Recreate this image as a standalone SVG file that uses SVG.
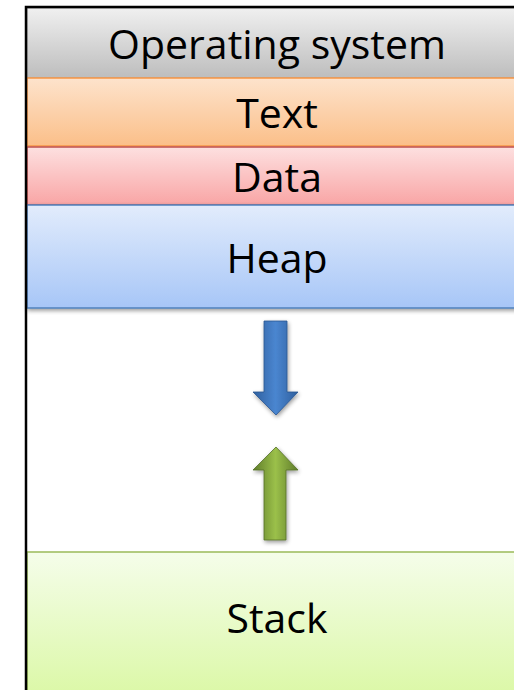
<svg xmlns="http://www.w3.org/2000/svg" width="514" height="690" viewBox="0 0 514 690">
<defs>
<linearGradient id="gOS" x1="0" y1="0" x2="0" y2="1"><stop offset="0" stop-color="#f0f0f0"/><stop offset="1" stop-color="#bdbdbd"/></linearGradient>
<linearGradient id="gText" x1="0" y1="0" x2="0" y2="1"><stop offset="0" stop-color="#fde3cc"/><stop offset="1" stop-color="#fbbf89"/></linearGradient>
<linearGradient id="gData" x1="0" y1="0" x2="0" y2="1"><stop offset="0" stop-color="#fde0e0"/><stop offset="1" stop-color="#f9a5a5"/></linearGradient>
<linearGradient id="gHeap" x1="0" y1="0" x2="0" y2="1"><stop offset="0" stop-color="#e2ecfc"/><stop offset="1" stop-color="#a7c6f7"/></linearGradient>
<linearGradient id="gStack" x1="0" y1="0" x2="0" y2="1"><stop offset="0" stop-color="#f5fdea"/><stop offset="1" stop-color="#dbf8a6"/></linearGradient>
<linearGradient id="gBlue" x1="0" y1="0" x2="1" y2="0"><stop offset="0" stop-color="#2f5f9e"/><stop offset="0.5" stop-color="#4a86d0"/><stop offset="1" stop-color="#2f5f9e"/></linearGradient>
<linearGradient id="gGreen" x1="0" y1="0" x2="1" y2="0"><stop offset="0" stop-color="#5f7c2a"/><stop offset="0.5" stop-color="#9bc04a"/><stop offset="1" stop-color="#5f7c2a"/></linearGradient>
<filter id="sh" x="-30%" y="-30%" width="160%" height="160%"><feGaussianBlur in="SourceAlpha" stdDeviation="2"/><feOffset dx="1" dy="2"/><feComponentTransfer><feFuncA type="linear" slope="0.4"/></feComponentTransfer><feMerge><feMergeNode/><feMergeNode in="SourceGraphic"/></feMerge></filter>
</defs>
<style>
.lbl{font-family:"Open Sans","Liberation Sans",sans-serif;font-size:41px;fill:#000;text-anchor:middle}
</style>
<rect x="0" y="0" width="514" height="690" fill="#fff"/>
<g id="os"><rect x="27" y="8" width="490" height="70" fill="url(#gOS)" stroke="#9a9a9a" stroke-width="1"/><text class="lbl" x="277" y="59">Operating system</text></g>
<g id="text"><rect x="27" y="78" width="490" height="68" fill="url(#gText)" stroke="#f79646" stroke-width="1.5"/><text class="lbl" x="277" y="128">Text</text></g>
<g id="data"><rect x="27" y="147" width="490" height="58" fill="url(#gData)" stroke="#c0504d" stroke-width="1.5"/><text class="lbl" x="277" y="192">Data</text></g>
<g id="heap"><rect x="27" y="205" width="490" height="103" fill="url(#gHeap)" stroke="#4f81bd" stroke-width="1.5" filter="url(#sh)"/><text class="lbl" x="277" y="273">Heap</text></g>
<g id="stack"><rect x="27" y="552" width="490" height="145" fill="url(#gStack)" stroke="#9bbb59" stroke-width="1.5"/><text class="lbl" x="277" y="633">Stack</text></g>
<g id="frame" fill="none" stroke="#000" stroke-width="2.5"><path d="M26,690 V7 H514"/></g>
<g id="connectors">
<path d="M264,321 H287 V392 H298 L276,415 L253,392 H264 Z" fill="url(#gBlue)" stroke="#2a5590" stroke-width="0.8" filter="url(#sh)"/>
<path d="M264,540 H286 V470 H298 L276,447 L253,470 H264 Z" fill="url(#gGreen)" stroke="#55702a" stroke-width="0.8" filter="url(#sh)"/>
</g>
</svg>
